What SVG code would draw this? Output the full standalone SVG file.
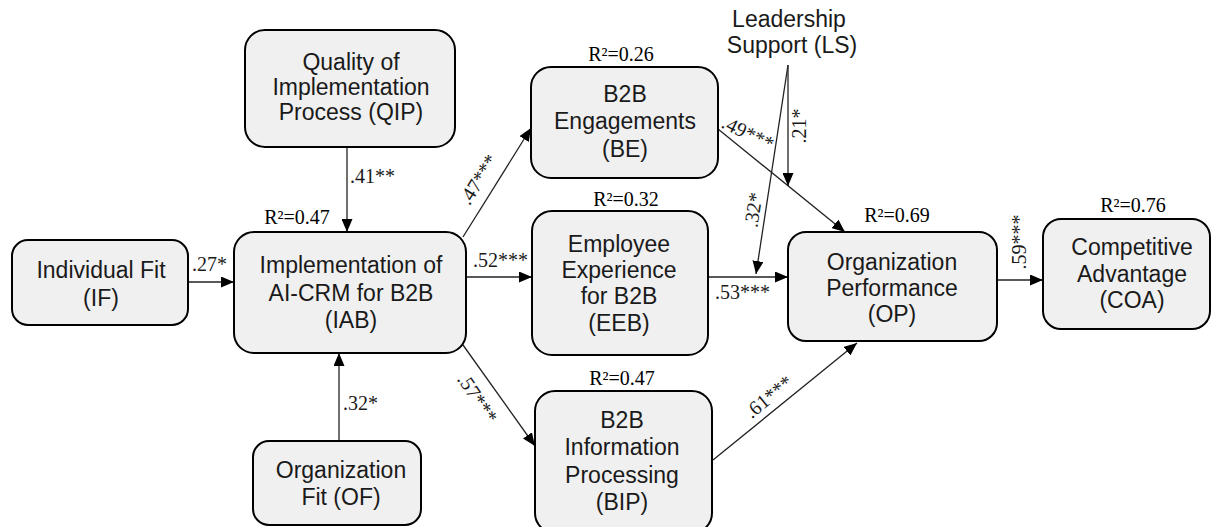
<svg xmlns="http://www.w3.org/2000/svg" width="1212" height="527" viewBox="0 0 1212 527">
<defs>
<marker id="ah" markerWidth="13" markerHeight="11" refX="13" refY="5.5" orient="auto" markerUnits="userSpaceOnUse">
<path d="M0,0 L13,5.5 L0,11 z" fill="#000"/>
</marker>
<style>
.box{fill:#f0f0f0;stroke:#000;stroke-width:2}
.nt{font-family:"Liberation Sans",Arial,sans-serif;font-size:23px;fill:#1a1a1a;text-anchor:middle}
.lb{font-family:"Liberation Serif","Times New Roman",serif;font-size:20px;fill:#1a1a1a}
.r2{font-family:"Liberation Serif","Times New Roman",serif;font-size:20px;fill:#000;text-anchor:middle}
.cn{stroke:#222;stroke-width:1.3;fill:none;marker-end:url(#ah)}
</style>
</defs>
<rect width="1212" height="527" fill="#fff"/>

<g id="connectors">
<line class="cn" x1="347" y1="147" x2="347" y2="232"/>
<line class="cn" x1="188" y1="282" x2="234" y2="282"/>
<line class="cn" x1="339" y1="441" x2="339" y2="353"/>
<line class="cn" x1="463" y1="237" x2="531" y2="128"/>
<line class="cn" x1="466" y1="277" x2="532" y2="277"/>
<line class="cn" x1="463" y1="345" x2="535" y2="446"/>
<line class="cn" x1="708" y1="277" x2="788" y2="277"/>
<line class="cn" x1="718" y1="129" x2="845" y2="232"/>
<line class="cn" x1="713" y1="460" x2="857" y2="343"/>
<line class="cn" x1="997" y1="280" x2="1043" y2="280"/>
<line class="cn" x1="788" y1="65" x2="788" y2="186"/>
<line class="cn" x1="788" y1="65" x2="756" y2="274"/>
<text class="lb" x="350" y="183">.41**</text>
<text class="lb" x="192" y="271">.27*</text>
<text class="lb" x="343" y="410">.32*</text>
<text class="lb" x="473" y="267">.52***</text>
<text class="lb" x="715" y="299">.53***</text>
<text class="lb" text-anchor="middle" transform="translate(484,183) rotate(-58)">.47***</text>
<text class="lb" text-anchor="middle" transform="translate(472,402) rotate(56)">.57***</text>
<text class="lb" text-anchor="middle" transform="translate(773,402) rotate(-39)">.61***</text>
<text class="lb" text-anchor="middle" transform="translate(745,139) rotate(26)">.49***</text>
<text class="lb" text-anchor="middle" transform="translate(806,126) rotate(-90)">.21*</text>
<text class="lb" text-anchor="middle" transform="translate(760,211) rotate(-81)">.32*</text>
<text class="lb" text-anchor="middle" transform="translate(1026,242) rotate(-90)">.59***</text>
</g>

<g id="LS">
<text class="nt" x="789" y="27">Leadership</text>
<text class="nt" x="792" y="53">Support (LS)</text>
</g>

<g id="QIP">
<rect class="box" x="245" y="30" width="210" height="117" rx="20"/>
<text class="nt" x="351" y="70">Quality of</text>
<text class="nt" x="351" y="95">Implementation</text>
<text class="nt" x="351" y="120">Process (QIP)</text>
</g>

<g id="IF">
<rect class="box" x="12" y="240" width="176" height="85" rx="16"/>
<text class="nt" x="101" y="278">Individual Fit</text>
<text class="nt" x="101" y="306">(IF)</text>
</g>

<g id="IAB">
<rect class="box" x="234" y="232" width="232" height="121" rx="20"/>
<text class="r2" x="297" y="224">R²=0.47</text>
<text class="nt" x="351" y="273">Implementation of</text>
<text class="nt" x="351" y="301">AI-CRM for B2B</text>
<text class="nt" x="351" y="328">(IAB)</text>
</g>

<g id="OF">
<rect class="box" x="253" y="441" width="168" height="84" rx="16"/>
<text class="nt" x="341" y="478">Organization</text>
<text class="nt" x="341" y="505">Fit (OF)</text>
</g>

<g id="BE">
<rect class="box" x="531" y="67" width="187" height="111" rx="20"/>
<text class="r2" x="621" y="61">R²=0.26</text>
<text class="nt" x="625" y="102">B2B</text>
<text class="nt" x="625" y="129">Engagements</text>
<text class="nt" x="625" y="157">(BE)</text>
</g>

<g id="EEB">
<rect class="box" x="532" y="211" width="176" height="144" rx="20"/>
<text class="r2" x="626" y="206">R²=0.32</text>
<text class="nt" x="619" y="252">Employee</text>
<text class="nt" x="619" y="278">Experience</text>
<text class="nt" x="619" y="304">for B2B</text>
<text class="nt" x="619" y="331">(EEB)</text>
</g>

<g id="BIP">
<rect class="box" x="535" y="391" width="177" height="142" rx="20"/>
<text class="r2" x="622" y="385">R²=0.47</text>
<text class="nt" x="622" y="428">B2B</text>
<text class="nt" x="622" y="455">Information</text>
<text class="nt" x="622" y="483">Processing</text>
<text class="nt" x="622" y="510">(BIP)</text>
</g>

<g id="OP">
<rect class="box" x="788" y="232" width="209" height="109" rx="18"/>
<text class="r2" x="897" y="222">R²=0.69</text>
<text class="nt" x="892" y="270">Organization</text>
<text class="nt" x="892" y="296">Performance</text>
<text class="nt" x="892" y="322">(OP)</text>
</g>

<g id="COA">
<rect class="box" x="1043" y="219" width="167" height="110" rx="18"/>
<text class="r2" x="1133" y="212">R²=0.76</text>
<text class="nt" x="1132" y="255">Competitive</text>
<text class="nt" x="1132" y="282">Advantage</text>
<text class="nt" x="1132" y="308">(COA)</text>
</g>
</svg>
